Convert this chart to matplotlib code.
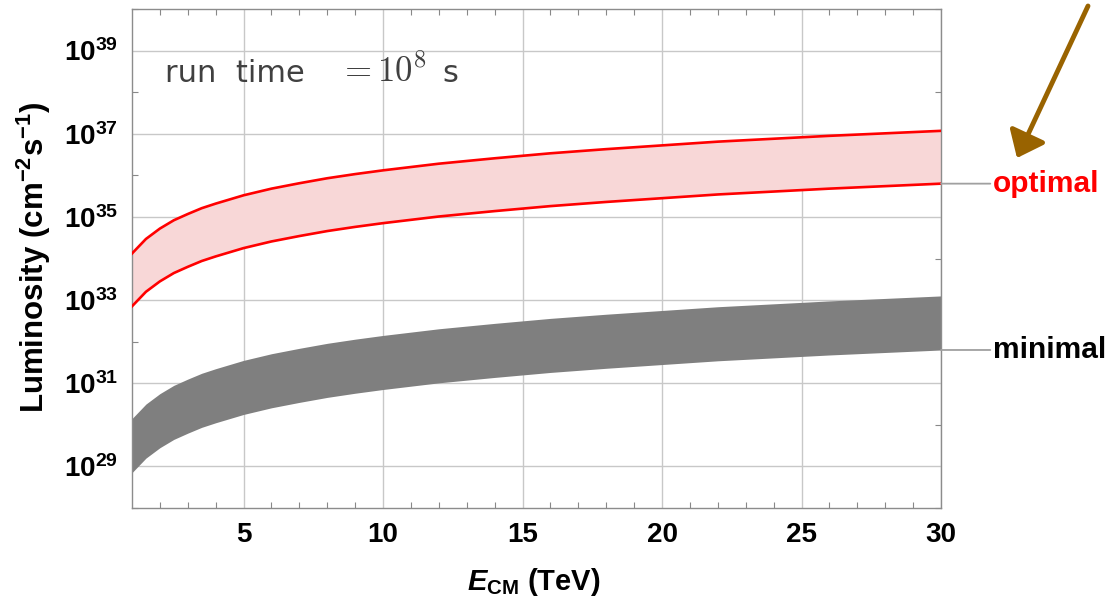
import numpy as np
import matplotlib
matplotlib.use("Agg")
import matplotlib.pyplot as plt
from matplotlib.ticker import FixedLocator, FuncFormatter, NullFormatter

# ---- data (log10 luminosity) ----
E_cm = [1, 1.5, 2, 2.5, 3, 3.5, 4, 5, 6, 7, 8, 9, 10, 12, 14, 16, 18, 20, 22, 24, 26, 28, 30]
opt_hi_log = [34.12, 34.47, 34.72, 34.92, 35.07, 35.21, 35.32, 35.52, 35.68, 35.81, 35.93, 36.03,
              36.12, 36.28, 36.41, 36.53, 36.63, 36.72, 36.81, 36.88, 36.95, 37.01, 37.07]
opt_lo_log = [32.85, 33.20, 33.45, 33.65, 33.80, 33.94, 34.05, 34.25, 34.41, 34.54, 34.66, 34.76,
              34.85, 35.01, 35.14, 35.26, 35.36, 35.45, 35.54, 35.61, 35.68, 35.74, 35.80]
min_hi_log = [30.15, 30.50, 30.75, 30.95, 31.10, 31.24, 31.35, 31.55, 31.71, 31.84, 31.96, 32.06,
              32.15, 32.31, 32.44, 32.56, 32.66, 32.75, 32.84, 32.91, 32.98, 33.04, 33.10]
min_lo_log = [28.85, 29.20, 29.45, 29.65, 29.80, 29.94, 30.05, 30.25, 30.41, 30.54, 30.66, 30.76,
              30.85, 31.01, 31.14, 31.26, 31.36, 31.45, 31.54, 31.61, 31.68, 31.74, 31.80]

x_ticks = [5, 10, 15, 20, 25, 30]
y_major_exp = [29, 31, 33, 35, 37, 39]
band_labels = ["optimal", "minimal"]

plt.rcParams['mathtext.fontset'] = 'custom'
plt.rcParams['mathtext.rm'] = 'Liberation Sans:bold'
plt.rcParams['mathtext.it'] = 'Liberation Sans:bold:italic'
plt.rcParams['mathtext.bf'] = 'Liberation Sans:bold'
plt.rcParams['mathtext.default'] = 'rm'
plt.rcParams['font.family'] = ['Liberation Sans', 'DejaVu Sans']

W, H = 1117, 599
fig = plt.figure(figsize=(W / 100, H / 100), dpi=100)
ax = fig.add_axes([132 / W, 1 - 508 / H, (941 - 132) / W, (508 - 9) / H])

E = np.array(E_cm)
oh = 10.0 ** np.array(opt_hi_log)
ol = 10.0 ** np.array(opt_lo_log)
mh = 10.0 ** np.array(min_hi_log)
ml = 10.0 ** np.array(min_lo_log)

ax.set_yscale('log')
ax.set_xlim(1, 30)
ax.set_ylim(1e28, 1e40)

ax.fill_between(E, ol, oh, color='#f8d7d7', lw=0, zorder=2)
ax.plot(E, oh, color='#ff0000', lw=1.9, zorder=3)
ax.plot(E, ol, color='#ff0000', lw=1.9, zorder=3)
ax.fill_between(E, ml, mh, color='#7f7f7f', lw=0, zorder=2)

# ticks & grid
ax.xaxis.set_major_locator(FixedLocator(x_ticks))
ax.xaxis.set_minor_locator(FixedLocator(np.arange(2, 30, 1)))
ax.yaxis.set_major_locator(FixedLocator([10.0 ** e for e in y_major_exp]))
ax.yaxis.set_minor_locator(FixedLocator([10.0 ** e for e in range(28, 41, 2)]))
ax.yaxis.set_major_formatter(FuncFormatter(lambda v, p: r"$10^{%d}$" % int(round(np.log10(v)))))
ax.yaxis.set_minor_formatter(NullFormatter())
ax.xaxis.set_major_formatter(FuncFormatter(lambda v, p: "%d" % v))
ax.xaxis.set_minor_formatter(NullFormatter())
ax.tick_params(which='both', direction='in', top=True, right=True, color='#888888')
ax.tick_params(which='major', length=0, labelsize=20, pad=10)
ax.tick_params(which='minor', length=4, width=0.8)
for lab in ax.get_xticklabels() + ax.get_yticklabels():
    lab.set_fontweight('bold')
ax.grid(True, which='major', color='#c8c8c8', lw=1.0, zorder=0)
ax.set_axisbelow(True)
for s in ax.spines.values():
    s.set_color('#8c8c8c')
    s.set_linewidth(1.0)

fig.text(534 / W, 1 - 582 / H, r"$\mathit{E}_{\mathrm{CM}}$ (TeV)", fontsize=21, fontweight='bold',
         ha='center', va='center')
fig.text(34 / W, 1 - 257 / H, r"Luminosity (cm$^{-2}$s$^{-1}$)", fontsize=22.5, fontweight='bold',
         rotation=90, ha='center', va='center')

# run time annotation
fig.text(165 / W, 1 - 82 / H, "run  time", fontsize=22, color='#404040', family='DejaVu Sans',
         ha='left', va='baseline')
fig.text(338 / W, 1 - 82 / H, r"$=10^{8}$", fontsize=25, color='#404040', math_fontfamily='cm',
         ha='left', va='baseline')
fig.text(442 / W, 1 - 82 / H, "s", fontsize=22, color='#404040', family='DejaVu Sans',
         ha='left', va='baseline')

# right-side labels with connectors
for lab, yv, col in [(band_labels[0], ol[-1], '#ff0000'), (band_labels[1], ml[-1], '#000000')]:
    ax.annotate(lab, xy=(E[-1], yv), xycoords='data', xytext=(37.5, 0), textcoords='offset points',
                ha='left', va='center', fontsize=21.5, fontweight='bold', color=col,
                annotation_clip=False,
                arrowprops=dict(arrowstyle='-', color='#a0a0a0', lw=1.3, shrinkA=0, shrinkB=0))

# brown arrow
fig.patches.append(matplotlib.patches.FancyArrowPatch(
    (1088 / W, 1 - 6 / H), (1017 / W, 1 - 158 / H), transform=fig.transFigure,
    arrowstyle='-|>,head_length=10,head_width=8', mutation_scale=1.5,
    color='#996300', lw=3.5, shrinkA=0, shrinkB=0))

fig.savefig('out.png', dpi=100)
